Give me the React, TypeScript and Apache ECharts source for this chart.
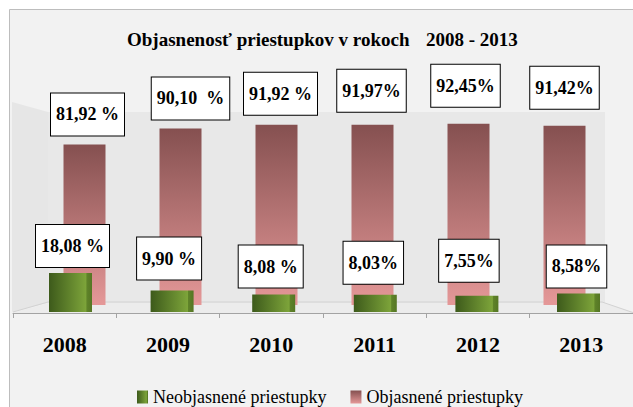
import React, { useEffect, useRef } from "react";
import * as echarts from "echarts";

const years = ["2008", "2009", "2010", "2011", "2012", "2013"];
const neobjasnene = [18.08, 9.9, 8.08, 8.03, 7.55, 8.58];
const objasnene = [81.92, 90.1, 91.92, 91.97, 92.45, 91.42];
const neobjLabels = ["18,08 %", "9,90 %", "8,08 %", "8,03%", "7,55%", "8,58%"];
const objLabels = ["81,92 %", "90,10  %", "91,92 %", "91,97%", "92,45%", "91,42%"];
const seriesNames = ["Neobjasnené priestupky", "Objasnené priestupky"];

// label placement styling (gap above bar, horizontal shift)
const objGap = [9, 9, 10, 13, 17, 17];
const objShift = [3, 10, 4, -1, -3, 0];
const neobjGap = [6, 11, 7, 11, 14, 6];
const neobjShift = [2, -3, -3, -2, -8, -2];

const FONT = "Times New Roman, Liberation Serif, DejaVu Serif, serif";

export default function App() {
  const ref = useRef<HTMLDivElement>(null);
  useEffect(() => {
    if (!ref.current) return;
    const chart = echarts.init(ref.current, null, { renderer: "svg" });
    const labelBox = {
      show: true,
      position: "top",
      backgroundColor: "#ffffff",
      borderColor: "#000000",
      borderWidth: 1,
      padding: [10, 5, 10, 5],
      fontSize: 18,
      lineHeight: 22,
      fontWeight: "bold",
      fontFamily: FONT,
      color: "#000000",
    };
    const greenFill = new echarts.graphic.LinearGradient(0, 0, 1, 0, [
      { offset: 0, color: "#3d5a1b" },
      { offset: 0.86, color: "#7da43a" },
      { offset: 0.88, color: "#5f8329" },
      { offset: 1, color: "#557624" },
    ]);
    const redFill = new echarts.graphic.LinearGradient(0, 0, 0, 1, [
      { offset: 0, color: "#855050" },
      { offset: 1, color: "#e59898" },
    ]);
    const option: any = {
      animation: false,
      backgroundColor: "#ffffff",
      textStyle: { fontFamily: FONT },
      graphic: [
        {
          type: "rect",
          z: 0,
          shape: { x: 9.5, y: 9.5, width: 660, height: 440 },
          style: { fill: "#f2f2f2", stroke: "#bdbdbd", lineWidth: 1 },
        },
        {
          type: "polygon",
          z: 0,
          shape: { points: [[12, 102], [48, 112], [48, 303], [12, 312]] },
          style: { fill: "#e6e6e6" },
        },
        {
          type: "rect",
          z: 0,
          shape: { x: 48, y: 112, width: 557, height: 191 },
          style: { fill: "#e8e8e8" },
        },
        {
          type: "polygon",
          z: 0,
          shape: { points: [[48, 303], [605, 303], [640, 314], [12, 313]] },
          style: { fill: "#ececec" },
        },
        {
          type: "polyline",
          z: 0,
          shape: { points: [[13, 312], [48, 302], [602, 302], [640, 315]] },
          style: { stroke: "#d2d2d2", lineWidth: 1, fill: "none" },
        },
        {
          type: "text",
          z: 5,
          x: 127,
          y: 39,
          style: {
            text: "Objasnenosť priestupkov v rokoch",
            fontSize: 19,
            fontWeight: "bold",
            fontFamily: FONT,
            fill: "#000",
            verticalAlign: "middle",
          },
        },
        {
          type: "text",
          z: 5,
          x: 426,
          y: 39,
          style: {
            text: "2008 - 2013",
            fontSize: 19,
            fontWeight: "bold",
            fontFamily: FONT,
            fill: "#000",
            verticalAlign: "middle",
          },
        },
      ],
      legend: {
        data: seriesNames,
        left: 132,
        top: 383,
        icon: "rect",
        itemWidth: 11,
        itemHeight: 13,
        itemGap: 24,
        textStyle: { fontSize: 18, fontFamily: FONT, color: "#000" },
      },
      grid: [
        { left: 36.5, right: 20.5, top: 109, bottom: 102 },
        { left: 19.7, right: 3.7, top: 96, bottom: 95 },
        { left: 13, right: -4, top: 100, bottom: 94 },
      ],
      xAxis: [
        { type: "category", gridIndex: 0, data: years, show: false },
        { type: "category", gridIndex: 1, data: years, show: false },
        {
          type: "category",
          gridIndex: 2,
          data: years,
          axisLine: { show: true, lineStyle: { color: "#a3a3a3", width: 1 } },
          axisTick: { show: true, length: 5, lineStyle: { color: "#a3a3a3" } },
          axisLabel: {
            fontSize: 22,
            fontWeight: "bold",
            fontFamily: FONT,
            color: "#000",
            margin: 20,
          },
        },
      ],
      yAxis: [
        { type: "value", gridIndex: 0, min: 0, max: 100, show: false },
        { type: "value", gridIndex: 1, min: 0, max: 100, show: false },
        { type: "value", gridIndex: 2, min: 0, max: 100, show: false },
      ],
      series: [
        {
          name: seriesNames[1],
          type: "bar",
          xAxisIndex: 0,
          yAxisIndex: 0,
          barWidth: 42,
          z: 2,
          itemStyle: { color: redFill },
          label: { ...labelBox, formatter: (p: any) => objLabels[p.dataIndex] },
          data: objasnene.map((v, i) => ({
            value: v,
            label: { distance: objGap[i], offset: [objShift[i], 0] },
          })),
        },
        {
          name: seriesNames[0],
          type: "bar",
          xAxisIndex: 1,
          yAxisIndex: 1,
          barWidth: 43,
          z: 3,
          itemStyle: { color: greenFill },
          label: { ...labelBox, formatter: (p: any) => neobjLabels[p.dataIndex] },
          data: neobjasnene.map((v, i) => ({
            value: v,
            label: { distance: neobjGap[i], offset: [neobjShift[i], 0] },
          })),
        },
      ],
    };
    chart.setOption(option);
    return () => chart.dispose();
  }, []);
  return (
    <div
      ref={ref}
      style={{ position: "fixed", left: 0, top: 0, width: 633, height: 407 }}
    />
  );
}
